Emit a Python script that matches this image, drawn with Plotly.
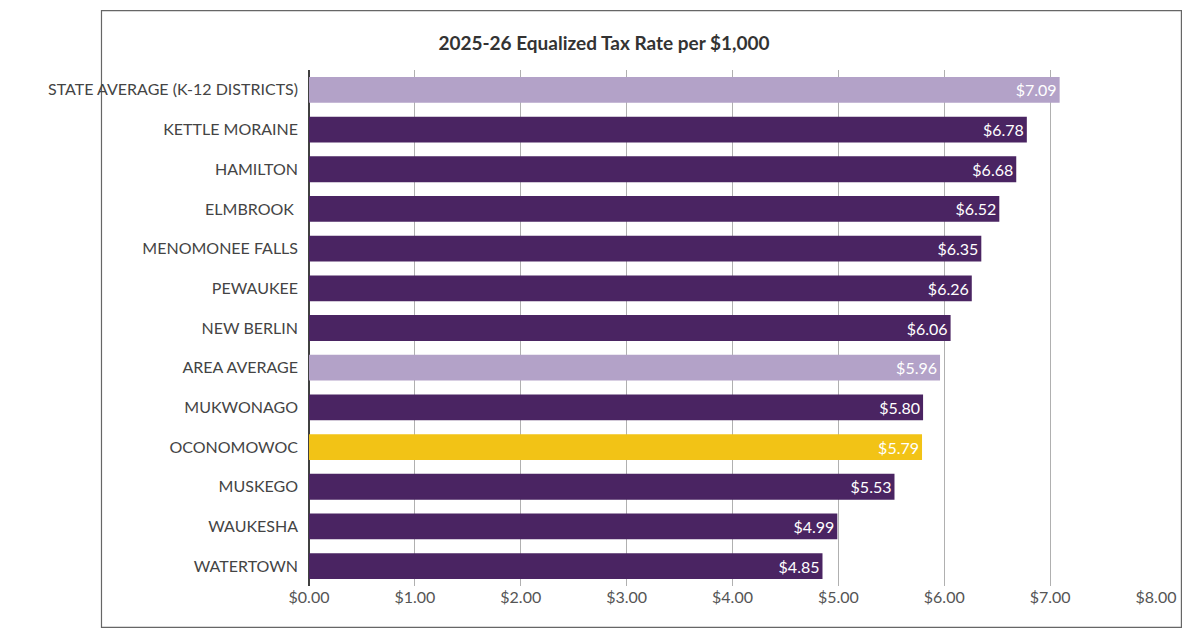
import plotly.graph_objects as go

districts = ["STATE AVERAGE (K-12 DISTRICTS)", "KETTLE MORAINE", "HAMILTON", "ELMBROOK ",
             "MENOMONEE FALLS", "PEWAUKEE", "NEW BERLIN", "AREA AVERAGE", "MUKWONAGO",
             "OCONOMOWOC", "MUSKEGO", "WAUKESHA", "WATERTOWN"]
rates = [7.09, 6.78, 6.68, 6.52, 6.35, 6.26, 6.06, 5.96, 5.80, 5.79, 5.53, 4.99, 4.85]
tick_vals = [0, 1, 2, 3, 4, 5, 6, 7, 8]
tick_text = ["$%.2f" % v for v in tick_vals]

DARK = "#4a2462"
LIGHT = "#b3a2c8"
GOLD = "#f2c316"


def bar_colour(name):
    if "AVERAGE" in name:
        return LIGHT
    if name == "OCONOMOWOC":
        return GOLD
    return DARK


colours = [bar_colour(d) for d in districts]

fig = go.Figure(go.Bar(
    x=rates, y=districts, orientation="h",
    marker=dict(color=colours, line=dict(width=0)),
    text=["$%.2f" % r for r in rates],
    textposition="inside", insidetextanchor="end",
    textfont=dict(color="white", size=16, family="Lato"),
    hoverinfo="y+x"
))

fig.update_layout(
    title=dict(text="<b>2025-26 Equalized Tax Rate per $1,000</b>", x=0.5, xanchor="center",
               y=0.955, font=dict(size=19, family="Lato", color="#333333")),
    width=1192, height=628,
    margin=dict(l=301, r=44, t=62, b=50),
    paper_bgcolor="white", plot_bgcolor="white",
    bargap=0.35,
    showlegend=False,
    font=dict(family="Lato", color="#444444"),
    shapes=[dict(type="rect", xref="paper", yref="paper", x0=-0.245, x1=1.03, y0=-0.08, y1=1.115,
                 line=dict(color="#666666", width=1.2), layer="below")],
)
fig.update_xaxes(range=[0, 8], tickvals=tick_vals, ticktext=tick_text, showgrid=True,
                 gridcolor="#b0b0b0", gridwidth=1, zeroline=True, zerolinecolor="#404040",
                 zerolinewidth=1.5, tickfont=dict(size=16, color="#555555"), ticks="")
fig.update_yaxes(autorange="reversed", tickfont=dict(size=16, color="#444444"), ticks="",
                 ticklabelstandoff=10, categoryorder="array", categoryarray=districts)

fig.write_html("out.html")
